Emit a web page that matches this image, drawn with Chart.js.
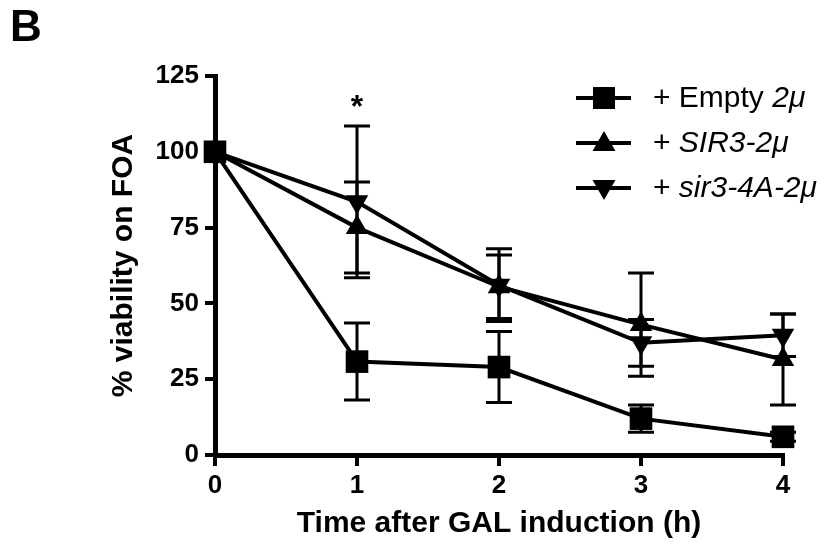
<!DOCTYPE html>
<html>
<head>
<meta charset="utf-8">
<script src="https://cdn.jsdelivr.net/npm/chart.js@4.4.1/dist/chart.umd.min.js"></script>
<style>
  html, body { margin: 0; padding: 0; background: #fff; }
  #wrap { position: relative; width: 827px; height: 547px; }
  #panel { position: absolute; left: 10px; top: 1px; font: bold 44px "Liberation Sans", Arial, sans-serif; color: #000; }
</style>
</head>
<body>
<div id="wrap">
  <canvas id="myChart" width="827" height="547"></canvas>
  <div id="panel">B</div>
</div>
<script>
const ctx = document.getElementById('myChart').getContext('2d');

// time points (h)
const times = [0, 1, 2, 3, 4];

// % viability on FOA, mean and error
const emptyMean = [100, 30.8, 29, 12, 6];
const emptyErr = [0, 12.7, 11.7, 4.5, 1.5];
const sir3Mean = [100, 75, 55.5, 43, 31.5];
const sir3Err = [0, 15, 10.5, 17, 15];
const sir34aMean = [100, 83.5, 56, 37, 39.5];
const sir34aErr = [0, 25, 12, 7.7, 7];

const yTicks = [0, 25, 50, 75, 100, 125];
const xTicks = [0, 1, 2, 3, 4];

// significance mark
const starX = [1];
const starY = [116];

const legendLabels = [
    [['+ Empty ', false], ['2μ', true]],
    [['+ ', false], ['SIR3-2μ', true]],
    [['+ ', false], ['sir3-4A-2μ', true]]
];

const FONT = '"Liberation Sans", Arial, sans-serif';

function toPoints(ys) {
    return times.map((t, i) => ({ x: t, y: ys[i] }));
}

function drawMarker(c, style, x, y) {
    c.beginPath();
    if (style === 'rect') {
        c.rect(x - 11, y - 11, 22, 22);
    } else if (style === 'up') {
        c.moveTo(x, y - 12);
        c.lineTo(x + 11.5, y + 8);
        c.lineTo(x - 11.5, y + 8);
    } else {
        c.moveTo(x, y + 12);
        c.lineTo(x + 11.5, y - 8);
        c.lineTo(x - 11.5, y - 8);
    }
    c.closePath();
    c.fill();
}

const errorBars = {
    id: 'errorBars',
    beforeDatasetsDraw(chart) {
        const c = chart.ctx;
        const xs = chart.scales.x, ys = chart.scales.y;
        c.save();
        c.strokeStyle = '#000';
        c.lineWidth = 3;
        chart.data.datasets.forEach(ds => {
            ds.errors.forEach((e, i) => {
                if (!e) return;
                const x = xs.getPixelForValue(ds.data[i].x);
                const yT = ys.getPixelForValue(ds.data[i].y + e);
                const yB = ys.getPixelForValue(ds.data[i].y - e);
                c.beginPath();
                c.moveTo(x, yT); c.lineTo(x, yB);
                c.moveTo(x - 13, yT); c.lineTo(x + 13, yT);
                c.moveTo(x - 13, yB); c.lineTo(x + 13, yB);
                c.stroke();
            });
        });
        c.restore();
    }
};

const extras = {
    id: 'extras',
    afterDraw(chart) {
        const c = chart.ctx;
        const xs = chart.scales.x, ys = chart.scales.y;
        c.save();
        c.fillStyle = '#000';
        c.strokeStyle = '#000';

        // asterisk
        c.font = 'bold 32px ' + FONT;
        c.textAlign = 'center';
        c.textBaseline = 'middle';
        starX.forEach((sx, i) => {
            c.fillText('*', xs.getPixelForValue(sx), ys.getPixelForValue(starY[i]) + 5);
        });

        // legend
        const styles = ['rect', 'up', 'down'];
        c.textAlign = 'left';
        legendLabels.forEach((parts, i) => {
            const y = 98 + i * 45;
            c.lineWidth = 4;
            c.beginPath();
            c.moveTo(576, y); c.lineTo(631, y);
            c.stroke();
            drawMarker(c, styles[i], 604, y);
            let tx = 653;
            parts.forEach(([txt, it]) => {
                c.font = (it ? 'italic ' : '') + '30px ' + FONT;
                c.fillText(txt, tx, y + 1);
                tx += c.measureText(txt).width;
            });
        });
        c.restore();
    }
};

function SetupChart(ctx) {
    const myChart = new Chart(ctx, {
        type: 'line',
        data: {
            datasets: [{
                label: '+ Empty 2μ',
                data: toPoints(emptyMean),
                errors: emptyErr,
                pointStyle: 'rect',
                pointRadius: 16
            }, {
                label: '+ SIR3-2μ',
                data: toPoints(sir3Mean),
                errors: sir3Err,
                pointStyle: 'triangle',
                pointRadius: 13
            }, {
                label: '+ sir3-4A-2μ',
                data: toPoints(sir34aMean),
                errors: sir34aErr,
                pointStyle: 'triangle',
                pointRotation: 180,
                pointRadius: 13
            }].map(d => Object.assign(d, {
                borderColor: '#000',
                backgroundColor: '#000',
                pointBackgroundColor: '#000',
                pointBorderWidth: 0,
                borderWidth: 4,
                tension: 0,
                clip: false
            }))
        },
        options: {
            responsive: false,
            animation: false,
            events: [],
            layout: { padding: { left: 0, right: 44, top: 76, bottom: 0 } },
            plugins: {
                legend: { display: false },
                tooltip: { enabled: false }
            },
            scales: {
                x: {
                    type: 'linear',
                    min: 0,
                    max: 4,
                    afterBuildTicks: s => { s.ticks = xTicks.map(v => ({ value: v })); },
                    afterFit: s => { s.height = 92; },
                    grid: { drawOnChartArea: false, tickLength: 11, lineWidth: 4, color: '#000' },
                    border: { width: 5, color: '#000' },
                    ticks: { color: '#000', padding: 4, font: { family: FONT, size: 26, weight: 'bold' } },
                    title: {
                        display: true,
                        text: 'Time after GAL induction (h)',
                        color: '#000',
                        font: { family: FONT, size: 30, weight: 'bold' },
                        padding: { top: 0, bottom: 5 }
                    }
                },
                y: {
                    type: 'linear',
                    min: 0,
                    max: 125,
                    afterBuildTicks: s => { s.ticks = yTicks.map(v => ({ value: v })); },
                    afterFit: s => { s.width = 215; },
                    grid: { drawOnChartArea: false, tickLength: 10, lineWidth: 4, color: '#000' },
                    border: { width: 5, color: '#000' },
                    ticks: { color: '#000', padding: 6, font: { family: FONT, size: 26, weight: 'bold' } },
                    title: {
                        display: true,
                        text: '% viability on FOA',
                        color: '#000',
                        font: { family: FONT, size: 30, weight: 'bold' },
                        padding: { top: 106, bottom: 0 }
                    }
                }
            }
        },
        plugins: [errorBars, extras]
    });
    return myChart;
}

SetupChart(ctx);
</script>
</body>
</html>
